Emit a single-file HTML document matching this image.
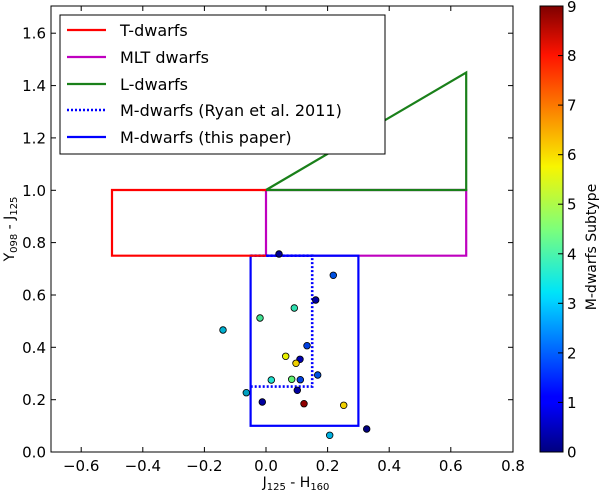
<!DOCTYPE html>
<html><head><meta charset="utf-8"><style>
html,body{margin:0;padding:0;background:#fff;}
svg{display:block;font-family:"DejaVu Sans","Liberation Sans",sans-serif;}
</style></head><body>
<svg width="600" height="491" viewBox="0 0 600 491" xmlns="http://www.w3.org/2000/svg">
<defs>
<linearGradient id="jet" x1="0" y1="1" x2="0" y2="0">
<stop offset="0" stop-color="#00007f"/>
<stop offset="0.11" stop-color="#0000ff"/>
<stop offset="0.125" stop-color="#0000ff"/>
<stop offset="0.34" stop-color="#00d4ff"/>
<stop offset="0.36" stop-color="#00e5f7"/>
<stop offset="0.5" stop-color="#7dff7a"/>
<stop offset="0.64" stop-color="#f8f500"/>
<stop offset="0.89" stop-color="#ff1300"/>
<stop offset="1" stop-color="#7f0000"/>
</linearGradient>
</defs>
<g fill="none" stroke-width="2.2">
<polyline points="266,255.7 266,190 466.2,190 466.2,255.7 266,255.7" stroke="#bf00bf"/>
<polygon points="266,190 466.2,72.5 466.2,190" stroke="#1a801a"/>
<rect x="250.6" y="255.7" width="107.8" height="170.1" stroke="#0000ff"/>
<polyline points="250.6,255.7 312.2,255.7 312.2,386.6 250.6,386.6" stroke="#0000ff" stroke-dasharray="2,2" stroke-width="2.6"/>
</g>
<polyline points="266,255.7 112,255.7 112,190 266,190" fill="none" stroke="#ff0000" stroke-width="2.2"/>
<g stroke="#000" stroke-width="0.8">
<circle cx="279" cy="254" r="3.3" fill="#00008f"/>
<circle cx="333.3" cy="275.3" r="3.3" fill="#0050e0"/>
<circle cx="315.7" cy="300" r="3.3" fill="#0000a0"/>
<circle cx="294.3" cy="308" r="3.3" fill="#30e0b0"/>
<circle cx="260" cy="318" r="3.3" fill="#40e090"/>
<circle cx="223" cy="330" r="3.3" fill="#00b0d0"/>
<circle cx="307" cy="345.7" r="3.3" fill="#0040e0"/>
<circle cx="285.7" cy="356.3" r="3.3" fill="#e8f000"/>
<circle cx="300" cy="359.3" r="3.3" fill="#0000b0"/>
<circle cx="296" cy="363.3" r="3.3" fill="#f0d000"/>
<circle cx="317.7" cy="375" r="3.3" fill="#0050e0"/>
<circle cx="271.3" cy="380" r="3.3" fill="#20e0d0"/>
<circle cx="291.7" cy="379.3" r="3.3" fill="#60f070"/>
<circle cx="300.3" cy="379.7" r="3.3" fill="#0040e0"/>
<circle cx="297.3" cy="390.3" r="3.3" fill="#0000a0"/>
<circle cx="246.3" cy="392.7" r="3.3" fill="#00a0c0"/>
<circle cx="262.3" cy="402" r="3.3" fill="#0000a0"/>
<circle cx="304" cy="403.7" r="3.3" fill="#900000"/>
<circle cx="343.7" cy="405.3" r="3.3" fill="#f0d000"/>
<circle cx="329.7" cy="435.3" r="3.3" fill="#00b0e0"/>
<circle cx="366.7" cy="429" r="3.3" fill="#000080"/>
</g>
<rect x="51" y="6" width="462" height="446" fill="none" stroke="#000" stroke-width="1"/>
<g stroke="#000" stroke-width="1">
<line x1="81.2" y1="452" x2="81.2" y2="447"/><line x1="142.8" y1="452" x2="142.8" y2="447"/><line x1="204.4" y1="452" x2="204.4" y2="447"/><line x1="266" y1="452" x2="266" y2="447"/><line x1="327.6" y1="452" x2="327.6" y2="447"/><line x1="389.2" y1="452" x2="389.2" y2="447"/><line x1="450.8" y1="452" x2="450.8" y2="447"/>
<line x1="81.2" y1="6" x2="81.2" y2="11"/><line x1="142.8" y1="6" x2="142.8" y2="11"/><line x1="204.4" y1="6" x2="204.4" y2="11"/><line x1="266" y1="6" x2="266" y2="11"/><line x1="327.6" y1="6" x2="327.6" y2="11"/><line x1="389.2" y1="6" x2="389.2" y2="11"/><line x1="450.8" y1="6" x2="450.8" y2="11"/>
<line x1="51" y1="399.7" x2="56" y2="399.7"/><line x1="51" y1="347.3" x2="56" y2="347.3"/><line x1="51" y1="295" x2="56" y2="295"/><line x1="51" y1="242.6" x2="56" y2="242.6"/><line x1="51" y1="190.3" x2="56" y2="190.3"/><line x1="51" y1="137.9" x2="56" y2="137.9"/><line x1="51" y1="85.6" x2="56" y2="85.6"/><line x1="51" y1="33.2" x2="56" y2="33.2"/>
<line x1="513" y1="399.7" x2="508" y2="399.7"/><line x1="513" y1="347.3" x2="508" y2="347.3"/><line x1="513" y1="295" x2="508" y2="295"/><line x1="513" y1="242.6" x2="508" y2="242.6"/><line x1="513" y1="190.3" x2="508" y2="190.3"/><line x1="513" y1="137.9" x2="508" y2="137.9"/><line x1="513" y1="85.6" x2="508" y2="85.6"/><line x1="513" y1="33.2" x2="508" y2="33.2"/>
</g>
<g font-size="15" fill="#000" text-anchor="middle">
<text x="81.2" y="471">−0.6</text><text x="142.8" y="471">−0.4</text><text x="204.4" y="471">−0.2</text><text x="266" y="471">0.0</text><text x="327.6" y="471">0.2</text><text x="389.2" y="471">0.4</text><text x="450.8" y="471">0.6</text><text x="513" y="471">0.8</text>
</g>
<g font-size="15" fill="#000" text-anchor="end">
<text x="46" y="457.5">0.0</text><text x="46" y="405.2">0.2</text><text x="46" y="352.8">0.4</text><text x="46" y="300.5">0.6</text><text x="46" y="248.1">0.8</text><text x="46" y="195.8">1.0</text><text x="46" y="143.4">1.2</text><text x="46" y="91.1">1.4</text><text x="46" y="38.7">1.6</text>
</g>
<text x="296" y="487" font-size="14" text-anchor="middle">J<tspan font-size="10" dy="3">125</tspan><tspan dy="-3"> - H</tspan><tspan font-size="10" dy="3">160</tspan></text>
<text transform="translate(14,229) rotate(-90)" font-size="14" text-anchor="middle">Y<tspan font-size="10" dy="3">098</tspan><tspan dy="-3"> - J</tspan><tspan font-size="10" dy="3">125</tspan></text>
<rect x="60" y="15" width="325" height="139" fill="#fff" stroke="#000" stroke-width="1"/>
<g stroke-width="2.2">
<line x1="67" y1="30" x2="106" y2="30" stroke="#ff0000"/>
<line x1="67" y1="57" x2="106" y2="57" stroke="#bf00bf"/>
<line x1="67" y1="84" x2="106" y2="84" stroke="#1a801a"/>
<line x1="67" y1="110" x2="106" y2="110" stroke="#0000ff" stroke-dasharray="2,2" stroke-width="2.6"/>
<line x1="67" y1="137" x2="106" y2="137" stroke="#0000ff"/>
</g>
<g font-size="16" fill="#000">
<text x="120" y="36">T-dwarfs</text>
<text x="120" y="63">MLT dwarfs</text>
<text x="120" y="90">L-dwarfs</text>
<text x="120" y="116">M-dwarfs (Ryan et al. 2011)</text>
<text x="120" y="143">M-dwarfs (this paper)</text>
</g>
<rect x="540" y="6" width="23" height="446" fill="url(#jet)" stroke="#000" stroke-width="1"/>
<g stroke="#000" stroke-width="1">
<line x1="558" y1="402.4" x2="563" y2="402.4"/><line x1="558" y1="352.9" x2="563" y2="352.9"/><line x1="558" y1="303.3" x2="563" y2="303.3"/><line x1="558" y1="253.8" x2="563" y2="253.8"/><line x1="558" y1="204.2" x2="563" y2="204.2"/><line x1="558" y1="154.7" x2="563" y2="154.7"/><line x1="558" y1="105.1" x2="563" y2="105.1"/><line x1="558" y1="55.6" x2="563" y2="55.6"/>
</g>
<g font-size="15" fill="#000">
<text x="567" y="457.5">0</text><text x="567" y="407.9">1</text><text x="567" y="358.4">2</text><text x="567" y="308.8">3</text><text x="567" y="259.3">4</text><text x="567" y="209.7">5</text><text x="567" y="160.2">6</text><text x="567" y="110.6">7</text><text x="567" y="61.1">8</text><text x="567" y="12">9</text>
</g>
<text transform="translate(596,247) rotate(-90)" font-size="14" text-anchor="middle">M-dwarfs Subtype</text>
</svg>
</body></html>
